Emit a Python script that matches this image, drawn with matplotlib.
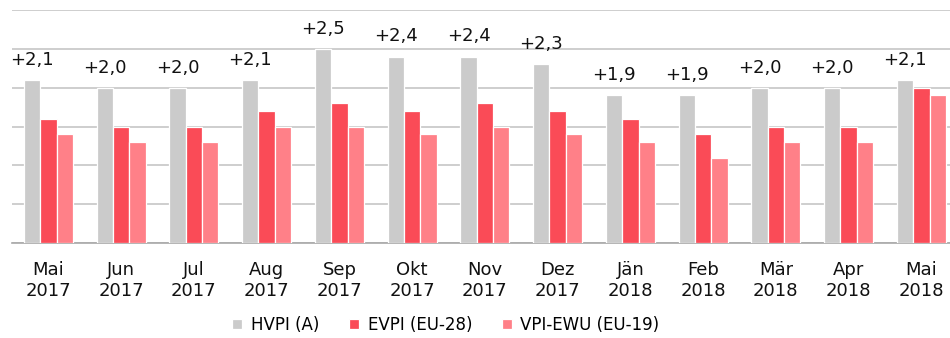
import matplotlib

matplotlib.use("Agg")
import matplotlib.pyplot as plt
import numpy as np

months = ["Mai\n2017", "Jun\n2017", "Jul\n2017", "Aug\n2017", "Sep\n2017",
          "Okt\n2017", "Nov\n2017", "Dez\n2017", "Jän\n2018", "Feb\n2018",
          "Mär\n2018", "Apr\n2018", "Mai\n2018"]
hvpi = [2.1, 2.0, 2.0, 2.1, 2.5, 2.4, 2.4, 2.3, 1.9, 1.9, 2.0, 2.0, 2.1]
evpi = [1.6, 1.5, 1.5, 1.7, 1.8, 1.7, 1.8, 1.7, 1.6, 1.4, 1.5, 1.5, 2.0]
vpi_ewu = [1.4, 1.3, 1.3, 1.5, 1.5, 1.4, 1.5, 1.4, 1.3, 1.1, 1.3, 1.3, 1.9]
series_names = ["HVPI (A)", "EVPI (EU-28)", "VPI-EWU (EU-19)"]

colors = ["#CBCBCB", "#FA4B57", "#FF8088"]

W, H = 950, 338
fig = plt.figure(figsize=(W / 100, H / 100), dpi=100)
# plot area runs a little past the right edge of the canvas
left, right, bottom, top = 12, 957.75, 243, 10
ax = fig.add_axes([left / W, 1 - bottom / H, (right - left) / W, (bottom - top) / H])

x = np.arange(len(months))
pitch = 0.224
for i, (vals, name) in enumerate(zip([hvpi, evpi, vpi_ewu], series_names)):
    ax.bar(x + (i - 1) * pitch, vals, width=pitch, color=colors[i],
           edgecolor="white", linewidth=0.9, label=name, zorder=3)

for xi, v in zip(x, hvpi):
    ax.annotate(f"+{v:.1f}".replace(".", ","), (xi - pitch, v),
                xytext=(0, 8), textcoords="offset points",
                ha="center", va="bottom", fontsize=13, color="#111111")

ax.set_xlim(-0.5, len(months) - 0.5)
ax.set_ylim(0, 3.0)
ax.set_yticks(np.arange(0, 3.01, 0.5))
ax.yaxis.grid(True, color="#C6C6C6", linewidth=1.2, zorder=0)
ax.tick_params(axis="y", left=False, labelleft=False)
ax.tick_params(axis="x", length=0, pad=13)
ax.set_xticks(x)
ax.set_xticklabels(months, fontsize=13, color="#111111", linespacing=1.2)
for s in ["top", "right", "left"]:
    ax.spines[s].set_visible(False)
ax.spines["bottom"].set_color("#A8A8A8")
ax.spines["bottom"].set_linewidth(1.2)

fig.legend(loc="center", bbox_to_anchor=(446 / W, 1 - 325 / H), ncol=3,
           frameon=False, fontsize=12, handlelength=0.6, handleheight=0.6,
           handletextpad=0.5, columnspacing=1.8)

fig.savefig("out.png", dpi=100)
